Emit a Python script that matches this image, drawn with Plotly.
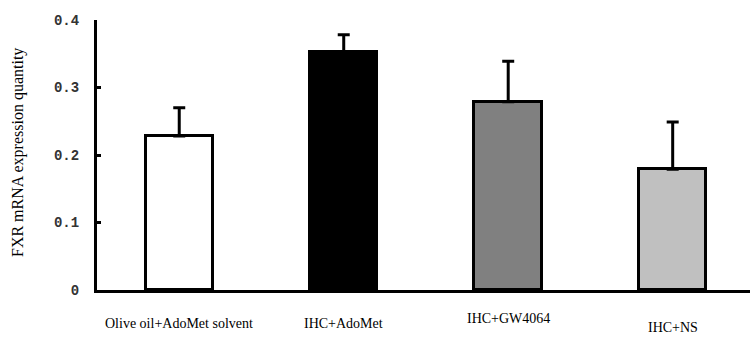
import plotly.graph_objects as go

categories = ["Olive oil+AdoMet solvent", "IHC+AdoMet", "IHC+GW4064", "IHC+NS"]
values = [0.228, 0.353, 0.279, 0.179]
errors = [0.042, 0.025, 0.060, 0.070]
colors = ["#ffffff", "#000000", "#808080", "#c0c0c0"]
tick_vals = [0, 0.1, 0.2, 0.3, 0.4]
tick_text = ["0", "0.1", "0.2", "0.3", "0.4"]
label_dy = [0, 0, -5, 4]

fig = go.Figure()
fig.add_trace(go.Bar(
    x=list(range(len(categories))), y=values,
    width=0.41,
    marker=dict(color=colors, line=dict(color="black", width=3)),
    error_y=dict(type="data", array=errors, arrayminus=[0]*len(errors),
                 color="black", thickness=3, width=6, symmetric=False),
    hoverinfo="skip",
))

for i, (c, dy) in enumerate(zip(categories, label_dy)):
    fig.add_annotation(x=i, y=0, xref="x", yref="y", text=c, showarrow=False,
                       yshift=-33 - dy, font=dict(family="Liberation Serif", size=14, color="black"),
                       xanchor="center", yanchor="middle")

fig.add_annotation(xref="paper", yref="paper",
                   x=(18 - 97) / (750 - 97), y=(290 - 153) / 270,
                   xanchor="center", yanchor="middle",
                   text="FXR mRNA expression quantity", showarrow=False, textangle=-90,
                   font=dict(family="Liberation Serif", size=16, color="black"))

fig.update_layout(
    width=750, height=342,
    margin=dict(l=97, r=0, t=20, b=52),
    plot_bgcolor="white", paper_bgcolor="white",
    showlegend=False,
    bargap=0,
    xaxis=dict(range=[-0.5, 3.47], showticklabels=False, ticks="",
               showline=True, linecolor="black", linewidth=3, showgrid=False,
               zeroline=False, fixedrange=True),
    yaxis=dict(range=[0, 0.4], tickvals=tick_vals, ticktext=tick_text,
               ticks="inside", ticklen=4, tickwidth=3, tickcolor="black",
               showline=True, linecolor="black", linewidth=3, showgrid=False,
               zeroline=False, ticklabelstandoff=12,
               tickfont=dict(family="Liberation Mono", size=14, color="#333333", weight="bold"),
               fixedrange=True),
)

fig.write_html("out.html", config={"displayModeBar": False},
               post_script="document.body.style.margin='0';document.body.style.overflow='hidden';")
